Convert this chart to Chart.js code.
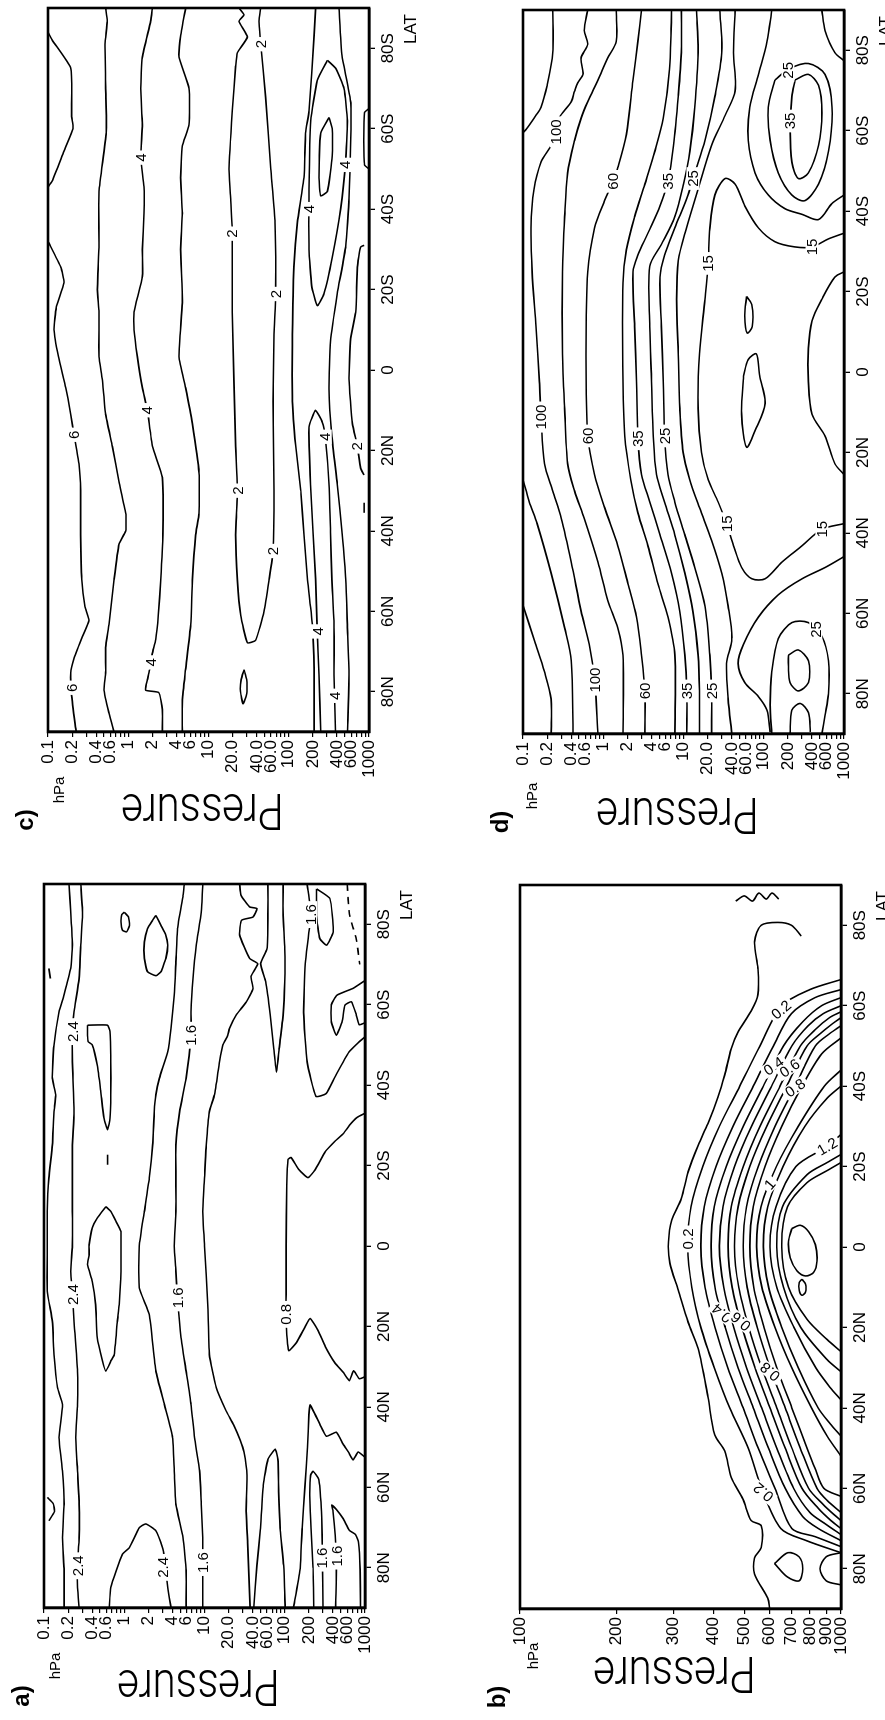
<!DOCTYPE html>
<html><head><meta charset="utf-8">
<script src="https://cdn.jsdelivr.net/npm/chart.js@4.4.1/dist/chart.umd.min.js"></script>
<style>
html,body{margin:0;padding:0;background:#fff;}
body{width:885px;height:1720px;overflow:hidden;position:relative;}
#page{position:absolute;left:0;top:0;width:1720px;height:885px;transform-origin:0 0;transform:translate(0px,1720px) rotate(-90deg);}
.pn{position:absolute;width:860px;height:442px;}
</style></head><body>
<div id="page">
<div class="pn" style="left:0px;top:-1px"><canvas id="cA" width="860" height="442"></canvas></div>
<div class="pn" style="left:-1px;top:475px"><canvas id="cB" width="860" height="442"></canvas></div>
<div class="pn" style="left:876px;top:3px"><canvas id="cC" width="860" height="442"></canvas></div>
<div class="pn" style="left:874px;top:478px"><canvas id="cD" width="860" height="442"></canvas></div>
</div>
<script>
// ---------------- axes ----------------
const LAT_TICKS = [80,60,40,20,0,-20,-40,-60,-80];
const P_TICKS = [0.1,0.2,0.3,0.4,0.5,0.6,0.7,0.8,0.9,1,2,3,4,5,6,7,8,9,10,20,30,40,50,60,70,80,90,100,200,300,400,500,600,700,800,900,1000];
const P_LABEL_VALUES = [0.1,0.2,0.4,0.6,1,2,4,6,10,20,40,60,100,200,400,600,1000];
const P_LABEL_TEXT = ['0.1','0.2','0.4','0.6','1','2','4','6','10','20.0','40.0','60.0','100','200','400','600','1000'];
const PB_TICKS = [100,200,300,400,500,600,700,800,900,1000];
const PB_LABEL_TEXT = ['100','200','300','400','500','600','700','800','900','1000'];

// ---------------- panel a : contours [lat (N+), pressure hPa] ----------------
const A28 = [[-90,0.205],[-83,0.215],[-74.8,0.226],[-69,0.215],[-62.4,0.178],[-58.2,0.154],[-49.9,0.133],[-41.7,0.127],[-37.6,0.14],[-33.4,0.133],[-25.1,0.127],[-16.9,0.115],[-8.6,0.11],[0,0.11],[11.2,0.11],[18.7,0.127],[27,0.133],[35.2,0.147],[39.4,0.17],[47.6,0.154],[55.9,0.17],[64.2,0.178],[72.5,0.17],[80.7,0.178],[90,0.178]];
const A24 = [[-90,0.287],[-83,0.302],[-74.8,0.287],[-66.5,0.274],[-58.2,0.237],[-53.3,0.226],[-45.8,0.226],[-33.4,0.237],[-25.1,0.226],[-16.9,0.226],[-8.6,0.226],[0,0.226],[6.3,0.215],[12.1,0.226],[18.7,0.237],[31.1,0.261],[39.4,0.261],[47.6,0.249],[55.9,0.261],[64.2,0.274],[72.5,0.274],[79.5,0.261],[84.9,0.261],[90,0.274]];
const AL1 = [[-83,1.0],[-81.8,1.13],[-79.7,1.16],[-78.1,1.07],[-78.5,0.95],[-80.6,0.91],[-82.4,0.93],[-83,1.0]];
const AL2 = [[-82.2,2.48],[-79.7,2.87],[-77.3,3.3],[-74.8,3.48],[-71.5,3.3],[-68.2,2.87],[-67.2,2.48],[-68.2,1.95],[-71.5,1.78],[-75.6,1.78],[-78.9,1.95],[-81,2.26],[-82.2,2.48]];
const AL3 = [[-54.9,0.348],[-54.9,0.62],[-53.3,0.665],[-45.8,0.68],[-37.6,0.68],[-31.8,0.665],[-28.9,0.62],[-31.8,0.56],[-38.4,0.51],[-45,0.46],[-50,0.40],[-50.8,0.355],[-52.4,0.348],[-54.9,0.348]];
const ADASH1 = [[-22.7,0.62],[-20.2,0.62]];
const AL4 = [[-9.8,0.59],[-6.9,0.46],[-4.5,0.4],[-0.3,0.365],[2.2,0.365],[4.6,0.348],[8.8,0.4],[14.6,0.44],[22.8,0.46],[28.6,0.536],[31.1,0.59],[28.6,0.68],[27,0.75],[18.7,0.82],[14.6,0.866],[6.3,0.91],[-2,0.91],[-3.6,0.91],[-6.1,0.79],[-8.6,0.68],[-9.8,0.59]];
const A20 = [[-90,5.6],[-87.2,5.4],[-78.9,4.6],[-70.6,4.4],[-62.4,4.2],[-54.1,3.83],[-48.3,3.48],[-41.7,2.74],[-37.6,2.48],[-33.4,2.37],[-25.1,2.26],[-16.9,2.05],[-8.6,1.78],[0,1.54],[10.4,1.54],[17,2.05],[31.1,2.48],[39.4,3.16],[47.6,4.0],[55.9,4.2],[64.2,4.4],[72.5,5.4],[80.7,5.9],[90,5.9]];
const ABUMP = [[90,0.65],[84.9,0.68],[76.6,0.95],[75,1.16],[70,1.54],[69.1,1.86],[70.8,2.48],[75,3.0],[77.4,3.16],[84.9,3.48],[90,3.83]];
const A16 = [[-90,9.5],[-83,9.1],[-74.8,7.9],[-66.5,7.2],[-58.2,6.8],[-52.4,6.8],[-41.7,5.9],[-33.4,4.9],[-25.1,4.4],[-16.9,4.4],[-8.6,4.4],[0,4.2],[6.3,4.4],[12.9,4.6],[22.8,5.1],[31.1,5.9],[39.4,6.8],[47.6,7.5],[55.9,8.7],[64.2,9.1],[72.5,9.5],[78.7,9.5],[90,9.5]];
const A12 = [[-90,27.4],[-87.2,28.5],[-84.3,36.5],[-83.9,45],[-81.8,40.2],[-81,29],[-77.3,27.4],[-71.5,36.5],[-70.2,46],[-67,38],[-64,40.2],[-60.7,33.2],[-57.4,24.8],[-54.1,20.5],[-52.4,19.5],[-49.9,16.9],[-45.8,15.4],[-37.6,13.3],[-33.4,11.5],[-25.1,10.5],[-16.9,10],[-8.6,9.5],[0,10],[14.6,11],[27,11.5],[35.2,14],[41,18.6],[44.4,23],[48.3,27.9],[51.2,31],[57,33.8],[65.9,33],[73.7,34.5],[90,37]];
const AM2 = [[-90,61.7],[-82.2,61.7],[-73.9,60],[-70.2,50],[-65.7,58],[-57.4,66],[-49.1,73],[-43.2,78.7],[-49.1,85],[-57.4,95.4],[-65.7,100],[-73.9,100],[-82.2,95.4],[-90,95.4]];
const AA1 = [[90,41],[79.5,45],[70.7,49.5],[59.5,54],[53,62],[50.5,76],[53,82],[61,84],[70.7,88],[79.5,97],[90,101]];
const AA2 = [[90,128],[80.5,155],[70,165],[60,178],[50,192],[42,200],[39.5,207],[44.4,275],[47.3,330],[46.3,440],[49.3,535],[51.2,620],[53.2,711],[51.2,820],[52.5,1000]];
const AA3 = [[90,230],[80,225],[70,212],[62,205],[57,210],[56,225],[58,265],[65,285],[72,292],[77.6,294],[90,300]];
const AA4 = [[90,430],[80,440],[72,425],[66,400],[64.4,385],[65.5,440],[67.8,535],[70.7,640],[71.7,760],[73.7,830],[80.5,870],[90,880]];
const A08 = [[-33,1000],[-32,800],[-30,640],[-28,540],[-26,420],[-23.5,320],[-19,240],[-17,195],[-19,150],[-22,120],[-21.5,110],[-15,106],[0,104],[12,104],[17,103],[26,112],[24,140],[20,180],[18,207],[21,260],[25,320],[29,420],[31.5,540],[33.5,640],[31,720],[33,850],[32.5,1000]];
const AR1 = [[-90,190],[-82.4,210],[-70.2,180],[-58,172],[-45.8,190],[-37.2,245],[-37.9,328],[-42.1,424],[-48.2,630],[-50.7,840],[-52,1000]];
const AR2 = [[-88.8,249],[-86.4,365],[-78.1,402],[-74.8,332],[-76.4,274],[-82.2,249],[-88.8,249]];
const AR3 = [[-66,1000],[-64,700],[-62.4,450],[-60,381],[-55.7,381],[-52.4,440],[-56,520],[-59.9,562],[-60.7,680],[-57.4,780],[-55,850],[-55.5,1000]];
const AR4 = [[-90,600],[-82.4,640],[-76.3,780],[-70,860]];
const ASMALL = [[62.5,0.11],[64,0.13],[66,0.135],[68.3,0.115]];
const ADASH2 = [[-69,0.115],[-66.5,0.12]];
const A_LABELS = [[-53.3,0.226,'2.4'],[12.1,0.226,'2.4'],[79.5,0.261,'2.4'],[79.9,3.0,'2.4'],[-52.4,6.8,'1.6'],[12.9,4.6,'1.6'],[78.7,9.5,'1.6'],[-82.4,210,'1.6'],[77.6,293,'1.6'],[77.1,440,'1.6'],[17,103,'0.8']];

// ---------------- panel b ----------------
const B01 = [[90,600],[87.3,591],[81.3,538],[77.3,538],[74.7,564],[69.3,564],[68,525],[62.7,495],[57.3,455],[50.7,434],[46.7,404],[37.3,385],[25.3,359],[18.7,334],[10.7,311],[4,293],[-1.3,290],[-6.7,297],[-12,318],[-18.7,334],[-25.3,359],[-30.7,385],[-37.3,414],[-42.7,434],[-49.3,455],[-53.3,477],[-58.7,525],[-62.7,551],[-69.3,551],[-76,538],[-80,564],[-80.7,635],[-80,700],[-77.3,752]];
const B02 = [[76,1000],[73,780],[70,650],[60,566],[50,514],[40,450],[30,403],[20,366],[10,343],[0,333],[-10,341],[-20,371],[-30,418],[-40,484],[-50,559],[-60,654],[-64,800],[-66.5,1000]];
const B03 = [[74.5,1000],[72,830],[70,703],[60,623],[50,552],[40,496],[30,444],[20,405],[10,377],[0,366],[-10,375],[-20,408],[-30,461],[-40,533],[-50,616],[-58,700],[-62,830],[-64,1000]];
const B04 = [[73,1000],[70,850],[67,760],[60,670],[50,594],[40,533],[30,478],[20,436],[10,405],[0,394],[-10,403],[-20,439],[-30,496],[-40,573],[-50,662],[-56,760],[-60,870],[-62,1000]];
const B05 = [[71.5,1000],[69,900],[66,800],[60,712],[50,631],[40,566],[30,508],[20,463],[10,431],[0,418],[-10,429],[-20,466],[-30,526],[-40,608],[-50,703],[-55,790],[-58,880],[-60,1000]];
const B06 = [[70,1000],[68,930],[65,850],[60,756],[50,670],[40,601],[30,540],[20,492],[10,458],[0,445],[-10,455],[-20,496],[-30,559],[-40,646],[-50,747],[-54,830],[-57,920],[-58.5,1000]];
const B07 = [[68,1000],[66.5,950],[64,880],[60,793],[50,703],[40,631],[30,566],[20,516],[10,480],[0,466],[-10,478],[-20,520],[-30,587],[-40,678],[-50,784],[-53,860],[-55.5,940],[-57,1000]];
const B08 = [[66,1000],[63,905],[60,842],[50,747],[40,670],[30,601],[20,548],[10,510],[0,496],[-10,508],[-20,552],[-30,623],[-40,720],[-50,832],[-53,920],[-55,1000]];
const B09 = [[62,1000],[60,884],[55,830],[50,784],[40,703],[30,631],[20,576],[10,535],[0,520],[-10,533],[-20,580],[-30,654],[-40,756],[-48,870],[-52,1000]];
const B10 = [[52,1000],[47,905],[40,809],[30,702],[20,623],[10,567],[0,546],[-10,563],[-20,629],[-30,736],[-40,888],[-44,1000]];
const B11 = [[47,1000],[44,927],[40,849],[30,736],[20,654],[10,595],[0,573],[-10,591],[-20,660],[-30,772],[-37,905],[-40,1000]];
const B12 = [[38,1000],[35,927],[30,834],[20,714],[10,631],[0,601],[-10,627],[-20,724],[-25,905],[-28,1000]];
const B13 = [[31,1000],[28,905],[20,749],[10,662],[0,631],[-10,657],[-18,784],[-21,905],[-23,1000]];
const B14 = [[26,1000],[23,905],[18,784],[10,686],[0,654],[-10,681],[-16,784],[-19,905],[-21,1000]];
const B15 = [[-4.6,703],[-5.4,747],[-3.8,793],[-0.6,832],[3.5,842],[6.3,822],[7.2,775],[5.9,729],[2.7,695],[-1.4,686],[-4.6,703]];
const B16 = [[8,756],[9.2,775],[11.2,775],[12,756],[10.8,741],[8.8,741],[8,756]];
const BW1 = [[-86,470],[-87.3,500],[-86,530],[-88,555],[-86.5,585],[-88,610],[-86.5,640]];
const BC1 = [[78.7,621],[76,683],[77,740],[80,760],[83,740],[82,680],[78.7,621]];
const BC2 = [[84,1000],[83,900],[80,860],[77,900],[76,1000]];
const B_LABELS = [[-2,333,'0.2',0],[61,573,'0.2',-50],[-59,651,'0.2',50],[16.5,425,'0.4',-50],[-45,617,'0.4',55],[18.5,487,'0.6',-50],[-44.5,691,'0.6',55],[31,601,'0.8',-50],[-39.6,720,'0.8',55],[-15.6,600,'1',40],[-25,905,'1.2',60]];

// ---------------- panel c ----------------
const C6A = [[-84,0.1],[-82,0.113],[-75,0.192],[-63,0.197],[-60,0.205],[-54.4,0.158],[-47,0.113],[-45.5,0.1]];
const C6B = [[-32,0.1],[-25.6,0.144],[-21.7,0.158],[-15.6,0.127],[-10,0.119],[-3.3,0.135],[4.4,0.166],[11.1,0.192],[16.1,0.211],[23.3,0.243],[30,0.255],[41,0.255],[52,0.263],[58.9,0.289],[62.2,0.324],[66.7,0.263],[71.7,0.211],[75.3,0.192],[81,0.197],[89,0.221],[90,0.225]];
const C5 = [[-90,0.523],[-86.7,0.548],[-81,0.513],[-70,0.523],[-59,0.533],[-44.4,0.432],[-31,0.432],[-20,0.412],[-14.4,0.432],[-3.3,0.432],[2.2,0.475],[11,0.523],[19,0.634],[27.8,0.767],[35.6,0.929],[40,0.929],[43.3,0.767],[52.2,0.664],[63.3,0.575],[69,0.523],[75.3,0.523],[79.6,0.499],[85.3,0.575],[90,0.664]];
const C4 = [[-90,2.0],[-86.7,1.9],[-77.8,1.5],[-70,1.43],[-61,1.5],[-52.8,1.43],[-45.6,1.57],[-39,1.57],[-30,1.5],[-23.3,1.5],[-14.4,1.18],[-10,1.18],[-3.3,1.3],[4.4,1.5],[10,1.73],[19,2.0],[26.7,2.66],[41,2.7],[52.2,2.54],[61,2.37],[67,2.2],[70.4,2.0],[74.4,1.85],[77,1.73],[79.6,1.65],[80.2,2.4],[84.4,2.66],[90,2.66]];
const C3A = [[-90,5.19],[-83.3,4.5],[-77.8,4.29],[-70,5.71],[-61,5.71],[-55.6,4.72],[-47.8,4.5],[-39,4.72],[-30,4.5],[-16.7,4.72],[-3.3,4.29],[4.4,5.19],[13.3,6.29],[25.6,7.62],[35.6,7.62],[41,6.92],[52.2,6.29],[63.3,6.0],[74.4,5.19],[82,4.72],[90,4.72]];
const C2U = [[-90,24],[-88.3,27.7],[-86.7,24],[-82.8,30.5],[-78.9,22.9],[-75.6,21.8],[-64.4,19.8],[-50,18],[-42.2,18.9],[-33.9,19.8],[-14.4,19.8],[18.9,21.8],[30,22.9],[41,21.8],[52.2,22.9],[61,25.2],[67.8,30.5],[67.2,38.7],[60,49.2],[52.2,56.8],[45,63.7],[30,65.5],[7.8,63.7],[-8.9,65.5],[-18.9,68.7],[-36.7,67.4],[-50,59.6],[-67.8,51.5],[-81,44.7],[-86.7,42.6],[-90,44.7]];
const C3B = [[-90,216],[-83.3,207],[-64.4,179],[-58.9,162],[-47.8,155],[-36.7,128],[-25.6,116],[-8.9,111],[7.8,111],[18.9,122],[30,141],[41,155],[52.2,171],[63.3,197],[74.4,207],[90,207]];
const C4S = [[-77,303],[-72,227],[-62,188],[-45,179],[-30,179],[-21,193],[-16,227],[-19,275],[-28,349],[-40,443],[-52,512],[-62,537],[-70,488],[-75,385],[-77,303]];
const C5S = [[-62.8,318],[-58.9,250],[-47.8,238],[-43.3,250],[-44.4,303],[-53.3,349],[-60,349],[-62.8,318]];
const C4N = [[90,250],[75.8,238],[64,226],[52,216],[28.4,187],[14.2,179],[10,215],[13,262],[16.6,285],[28.4,318],[40.3,331],[52,345],[64,367],[75.8,367],[90,383]];
const C3C = [[-90,423],[-78.2,460],[-66.4,594],[-42.7,563],[-30.8,513],[-19,403],[-7.1,331],[4.7,318],[16.6,345],[28.4,403],[40.3,460],[52.1,513],[64,538],[75.8,563],[90,540]];
const C2S = [[-31,870],[-30.6,787],[-25.6,716],[-14.4,683],[-7.8,591],[2.2,564],[13.3,620],[18.9,716],[24.4,787],[26.1,867]];
const CSFC = [[-65,1000],[-64,880],[-57,860],[-51,880],[-50,1000]];
const CELL = [[74.5,27.7],[77,25.5],[80,25],[83,27],[80.5,30],[77,30],[74.5,27.7]];
const CDASH = [[33,870],[35.5,870]];
const C_LABELS = [[16.1,0.211,'6'],[79,0.197,'6'],[-52.8,1.43,'4'],[10,1.73,'4'],[72.7,1.92,'4'],[-33.9,19.8,'2'],[30,22.9,'2'],[45,63.7,'2'],[-18.9,68.7,'2'],[-81,44.7,'2'],[-40,179,'4'],[-51,505,'4'],[16.6,285,'4'],[65,228,'4'],[81,372,'4'],[19,716,'2']];

// ---------------- panel d ----------------
const D1 = [[-90,0.235],[-79.4,0.235],[-71.3,0.2],[-65.8,0.168],[-63.8,0.145],[-60.4,0.11],[-59.5,0.1]];
const D100 = [[-90,0.64],[-84.9,0.58],[-81.5,0.64],[-78.1,0.53],[-74,0.56],[-71.9,0.48],[-69.9,0.44],[-67.2,0.4],[-63.1,0.28],[-59.7,0.26],[-56.3,0.224],[-52.2,0.168],[-45.4,0.137],[-35.8,0.126],[-24.9,0.13],[-11.3,0.145],[2.3,0.16],[11.2,0.168],[22.8,0.185],[29.6,0.235],[36.4,0.3],[47.3,0.4],[59.5,0.53],[67.7,0.67],[76.6,0.78],[90,0.86]];
const D1N = [[26.8,0.1],[32.3,0.12],[37.7,0.15],[50,0.224],[63.6,0.33],[71.8,0.4],[90,0.42]];
const D0N = [[58,0.1],[67,0.14],[74.5,0.185],[81.3,0.224],[90,0.224]];
const D80 = [[-90,1.45],[-82.2,1.45],[-78.1,1.14],[-72.6,0.86],[-67.2,0.64],[-63.1,0.53],[-57.6,0.44],[-49.5,0.36],[-38.6,0.33],[-24.9,0.31],[-4.5,0.31],[9.1,0.33],[22.8,0.36],[29.6,0.44],[36.4,0.58],[47.3,0.86],[56.8,1.14],[63.6,1.52],[70.4,1.76],[90,1.76]];
const D60 = [[-90,3.0],[-82.2,2.7],[-72.6,2.35],[-59,1.94],[-50.8,1.52],[-47.4,1.32],[-42.6,1.04],[-35.8,0.78],[-24.9,0.64],[-4.5,0.61],[15.9,0.64],[25.5,0.78],[33.7,1.04],[43.2,1.52],[52.7,2.04],[60.9,2.6],[70.4,3.0],[79.3,3.3],[90,3.3]];
const D45 = [[-90,7.1],[-75.3,6.7],[-63.1,5.6],[-54.9,4.4],[-46.7,3.3],[-38.6,2.46],[-30.4,1.94],[-22.2,1.76],[2.3,1.76],[15.9,1.85],[26.8,2.2],[35,2.7],[43.2,3.6],[52.7,4.8],[60.9,6.4],[70.4,7.8],[90,7.8]];
const D35 = [[-90,9.4],[-79.4,9.4],[-68.5,8.6],[-56.3,7.5],[-47.4,6.4],[-41.3,5.1],[-34.5,3.6],[-29,2.7],[-24.9,2.35],[-11.3,2.46],[2.3,2.6],[16.6,2.7],[25.5,3.0],[32.3,3.8],[40.5,5.1],[50,7.1],[59.5,9.0],[70.4,10.4],[79.3,11],[90,11]];
const D30 = [[-90,14.5],[-79.4,15.2],[-65.8,13.8],[-54.9,12],[-46.7,10],[-38.6,7.8],[-31.7,5.3],[-26.3,3.8],[-11.3,3.8],[2.3,4.0],[15.9,4.2],[25.5,4.6],[32.3,5.8],[40.5,7.8],[50,10.4],[59.5,13.1],[70.4,15.2],[79.3,15.8],[90,15.8]];
const D25 = [[-90,28.3],[-79.4,30],[-68.5,24.6],[-57.6,18.5],[-49.5,13.8],[-48.1,13.1],[-44,11.4],[-35.8,7.8],[-29,5.8],[-23.6,5.1],[-11.3,5.3],[2.3,5.6],[15.9,5.8],[25.5,6.4],[32.3,7.8],[40.5,10.4],[48.6,13.8],[58.2,18.5],[70.4,21.3],[79.3,22.4],[90,22.4]];
const D20 = [[-90,44],[-79.4,42],[-69.9,44],[-63.8,33],[-56.3,22.4],[-45.4,15.2],[-35.8,10.9],[-27.7,8.6],[-18.1,8.2],[-4.5,8.6],[9.1,9.0],[20,9.9],[26.8,12],[33.7,15.8],[41.8,22.4],[50,30],[58.2,36],[66.3,40],[72.5,34.4],[81.3,36],[90,40]];
const D15 = [[37.7,1000],[39.1,530],[43.2,300],[47.3,168],[51.4,104],[51.4,71],[48.6,53],[43.2,42],[37.7,34.4],[32.3,27],[26.8,20.3],[20,16.8],[9.1,15.2],[-4.5,15.8],[-18.1,18.5],[-27,20.3],[-35.8,21.3],[-44,24.6],[-48.1,33],[-46.7,44],[-41.3,58],[-35.8,86],[-32.4,138],[-31.1,245],[-31.1,400],[-33.1,640],[-34.5,1000]];
const DS20 = [[-90,126],[-82.2,110],[-74,86],[-65.8,67],[-57.6,64],[-49.5,78],[-44,114],[-40.6,184],[-39.2,300],[-37.9,480],[-41.9,710],[-44,1000]];
const DS25 = [[-72.6,138],[-75.3,203],[-76.7,360],[-74,580],[-65.8,710],[-54.9,640],[-46.7,480],[-42.6,325],[-44,224],[-49.5,152],[-57.6,120],[-65.8,114],[-72.6,138]];
const DS35 = [[-72.6,245],[-74,360],[-71.3,480],[-64.4,530],[-56.3,480],[-49.5,360],[-48.1,270],[-52.2,224],[-60.4,213],[-68.5,224],[-72.6,245]];
const DSC = [[-90,530],[-84.9,580],[-79.4,770],[-77.4,1000]];
const DT = [[-24.9,1000],[-23.6,770],[-18.1,530],[-12.7,400],[-5.9,360],[2.3,360],[10.5,400],[15.9,580],[22.8,770],[25.5,1000]];
const DL1 = [[1,56],[-3.1,64],[-4.5,81],[1,89],[7.8,104],[14.6,78],[18.7,61],[10.5,53],[1,56]];
const DL2 = [[-18.8,61],[-16.8,71],[-11.3,72],[-9.7,62],[-14,58],[-18.8,61]];
const DN20 = [[45.9,1000],[48.6,580],[51.4,300],[55.4,152],[60.9,86],[67.7,56],[72.5,48],[77.2,58],[80.7,86],[84.1,110],[89.5,120]];
const DN25 = [[90,126],[82.7,120],[74.5,126],[66.3,152],[62.3,224],[62.3,360],[65.7,530],[71.8,640],[80,640],[85.4,580],[90,530]];
const DN35 = [[70.4,203],[69.1,270],[71.8,360],[77.2,360],[79.3,270],[77.2,213],[73.2,203],[70.4,203]];
const DN35B = [[90,213],[84.1,224],[82.4,285],[84.7,360],[89.5,380]];
const D_LABELS = [[-59.7,0.26,'100'],[11.2,0.168,'100'],[76.6,0.78,'100'],[-47.4,1.32,'60'],[15.9,0.64,'60'],[79.3,3.3,'60'],[-47.4,6.4,'35'],[16.6,2.7,'35'],[79.3,11,'35'],[-48.1,13.1,'25'],[15.9,5.8,'25'],[79.3,22.4,'25'],[-75,200,'25'],[64,445,'25'],[-27,20.3,'15'],[37.7,34.4,'15'],[39.1,530,'15'],[-31.1,400,'15'],[-62.4,213,'35']];

// ---------------- rendering ----------------
Chart.defaults.font.family = '"Liberation Sans", Arial, sans-serif';
Chart.defaults.color = '#000';

function latLabel(v){ return v > 0 ? v + 'N' : (v < 0 ? (-v) + 'S' : '0'); }

const decor = {
  id: 'decor',
  afterDatasetsDraw(chart, args, o) {
    const ctx = chart.ctx, xs = chart.scales.x, ys = chart.scales.y;
    ctx.save();
    ctx.font = '15px "Liberation Sans"';
    ctx.textAlign = 'center'; ctx.textBaseline = 'middle';
    for (const L of o.labels) {
      const x = xs.getPixelForValue(L[0]), y = ys.getPixelForValue(L[1]);
      const t = L[2], ang = L[3] || 0;
      const w = ctx.measureText(t).width + 6, h = 13;
      ctx.save(); ctx.translate(x, y); ctx.rotate(ang * Math.PI / 180);
      ctx.fillStyle = '#fff'; ctx.fillRect(-w/2, -h/2, w, h);
      ctx.fillStyle = '#000'; ctx.fillText(t, 0, 1);
      ctx.restore();
    }
    ctx.restore();
  },
  afterDraw(chart, args, o) {
    const ctx = chart.ctx, ca = chart.chartArea;
    ctx.save();
    ctx.strokeStyle = '#000'; ctx.lineWidth = 2.6;
    ctx.strokeRect(ca.left, ca.top, ca.right - ca.left, ca.bottom - ca.top);
    ctx.fillStyle = '#000';
    ctx.textAlign = 'center'; ctx.textBaseline = 'middle';
    ctx.font = 'bold 24px "Liberation Sans"';
    ctx.fillText(o.tag, ca.left + o.tagX, ca.top + o.tagY);
    ctx.font = '15px "Liberation Sans"';
    ctx.fillText('hPa', ca.left + o.hpaX, ca.top + o.hpaY);
    ctx.font = '17px "Liberation Sans"';
    ctx.fillText('LAT', ca.right - 21, ca.bottom + 42);
    ctx.save();
    ctx.translate(ca.left + o.presX, (ca.top + ca.bottom) / 2 - 6);
    ctx.rotate(-Math.PI / 2);
    ctx.scale(0.84, 1);
    ctx.font = '300 50px Roboto, "Liberation Sans"';
    ctx.textBaseline = 'alphabetic';
    ctx.fillText('Pressure', 0, 0);
    ctx.restore();
    ctx.restore();
  }
};

function makePanel(id, lines, opts) {
  const datasets = lines.map(l => ({
    data: l.pts.map(q => ({x: q[0], y: q[1]})),
    showLine: true, pointRadius: 0, pointHoverRadius: 0,
    borderColor: '#000', borderWidth: 1.6, borderDash: l.dash || [],
    tension: opts.tension, fill: false
  }));
  const labelFor = (v) => {
    for (let i = 0; i < opts.pLabelVals.length; i++) {
      if (Math.abs(opts.pLabelVals[i] - v) / v < 1e-6) return opts.pLabelTxt[i];
    }
    return '';
  };
  new Chart(document.getElementById(id), {
    type: 'scatter',
    data: { datasets },
    options: {
      responsive: false, animation: false, devicePixelRatio: 1,
      layout: { padding: { top: 45, right: 24, left: 0, bottom: 0 } },
      plugins: { legend: { display: false }, tooltip: { enabled: false },
        decor: { labels: opts.labels, tag: opts.tag, tagX: -88, tagY: -22, hpaX: opts.hpaX, hpaY: opts.hpaY, presX: opts.presX } },
      scales: {
        x: {
          type: 'linear', position: 'bottom', min: -90, max: 90, reverse: true,
          afterBuildTicks: s => { s.ticks = LAT_TICKS.map(v => ({ value: v })); },
          afterFit: s => { s.height = 76; },
          ticks: { autoSkip: false, maxRotation: 0, minRotation: 0, padding: 3, color: '#000',
                   font: { size: 17 }, callback: v => latLabel(v) },
          grid: { display: true, drawOnChartArea: false, drawTicks: true, tickLength: 6, color: '#000', lineWidth: 1.3 },
          border: { display: true, color: '#000', width: 2.6 }
        },
        y: {
          type: 'logarithmic', position: 'left', min: opts.pmin, max: 1000, reverse: true,
          afterBuildTicks: s => { s.ticks = opts.pTicks.map(v => ({ value: v })); },
          afterFit: s => { s.width = 112; },
          ticks: { autoSkip: false, padding: 3, color: '#000', font: { size: 17 }, callback: v => labelFor(v) },
          grid: { display: true, drawOnChartArea: false, drawTicks: true, tickLength: 5, color: '#000', lineWidth: 1.2 },
          border: { display: true, color: '#000', width: 2.6 }
        }
      }
    },
    plugins: [decor]
  });
}

const S = p => ({ pts: p });
const DSH = p => ({ pts: p, dash: [7, 6] });

makePanel('cA',
  [A28, A24, AL1, AL2, AL3, ADASH1, AL4, A20, ABUMP, A16, A12, AM2, AA1, AA2, AA3, AA4, A08, AR1, AR2, AR3, ASMALL, ADASH2].map(S).concat([DSH(AR4)]),
  { tension: 0.15, pmin: 0.1, pTicks: P_TICKS, pLabelVals: P_LABEL_VALUES, pLabelTxt: P_LABEL_TEXT,
    labels: A_LABELS, tag: 'a)', hpaX: -58, hpaY: 12, presX: -62 });

makePanel('cB',
  [B01, B02, B03, B04, B05, B06, B07, B08, B09, B10, B11, B12, B13, B14, B15, B16, BW1, BC1, BC2].map(S),
  { tension: 0.3, pmin: 100, pTicks: PB_TICKS, pLabelVals: PB_TICKS, pLabelTxt: PB_LABEL_TEXT,
    labels: B_LABELS, tag: 'b)', hpaX: -47, hpaY: 14, presX: -48 });

makePanel('cC',
  [C6A, C6B, C5, C4, C3A, C2U, C3B, C4S, C5S, C4N, C3C, C2S, CSFC, CELL, CDASH].map(S),
  { tension: 0.15, pmin: 0.1, pTicks: P_TICKS, pLabelVals: P_LABEL_VALUES, pLabelTxt: P_LABEL_TEXT,
    labels: C_LABELS, tag: 'c)', hpaX: -58, hpaY: 12, presX: -62 });

makePanel('cD',
  [D1, D100, D1N, D0N, D80, D60, D45, D35, D30, D25, D20, D15, DS20, DS25, DS35, DSC, DT, DL1, DL2, DN20, DN25, DN35, DN35B].map(S),
  { tension: 0.3, pmin: 0.1, pTicks: P_TICKS, pLabelVals: P_LABEL_VALUES, pLabelTxt: P_LABEL_TEXT,
    labels: D_LABELS, tag: 'd)', hpaX: -62, hpaY: 10, presX: -64 });
</script>
</body></html>
